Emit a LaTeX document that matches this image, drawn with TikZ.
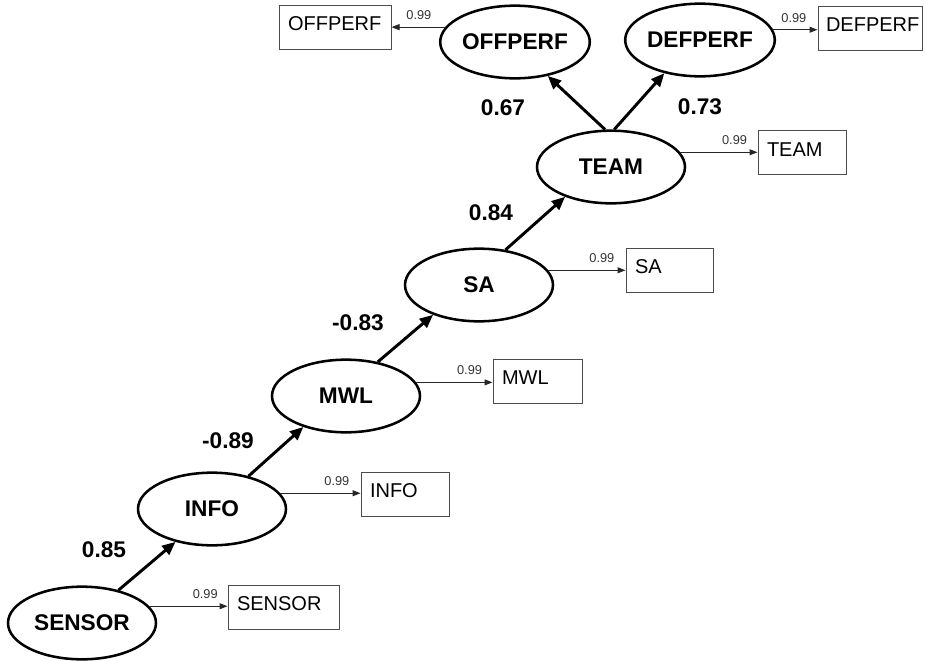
\documentclass[tikz,border=0pt]{standalone}
\usepackage{fontspec}
\setmainfont{Liberation Sans}
\usetikzlibrary{shapes.geometric,arrows.meta}
\begin{document}
\begin{tikzpicture}[x=0.75pt,y=-0.75pt,
  latent/.style={ellipse,draw,line width=1.9pt,inner sep=0pt,
    minimum width=111pt,minimum height=54.5pt,
    font=\fontsize{17}{20}\selectfont\bfseries},
  obsbox/.style={rectangle,draw=black!70,line width=0.75pt,
    minimum height=33pt,inner xsep=6.75pt,inner ysep=0pt,align=left,
    text height=9pt,text depth=3.75pt,font=\fontsize{15}{18}\selectfont},
  coef/.style={inner sep=0pt,font=\fontsize{17}{20}\selectfont\bfseries},
  errlab/.style={inner sep=0pt,text=black!80,font=\fontsize{9.6}{11}\selectfont},
  patharrow/.style={line width=2.2pt,-{Triangle[length=10pt,width=8.5pt]}},
  thinarrow/.style={line width=0.75pt,draw=black!85,-{Triangle[length=6pt,width=4.5pt]}}
]
\useasboundingbox (0,0) rectangle (926,661);

% latent variables
\node[latent] (sensor) at (82,623) {SENSOR};
\node[latent] (info)   at (212,509) {INFO};
\node[latent] (mwl)    at (346,396) {MWL};
\node[latent] (sa)     at (479,285) {SA};
\node[latent] (team)   at (611,167) {TEAM};
\node[latent] (off)    at (515,42)  {OFFPERF};
\node[latent] (def)    at (700,40)  {DEFPERF};

% observed indicators
\node[obsbox,text width=69.75pt] (sensorbox) at (283.5,607) {SENSOR};
\node[obsbox,text width=52.5pt]  (infobox)   at (405,494)   {INFO};
\node[obsbox,text width=53.25pt] (mwlbox)    at (537.5,381) {MWL};
\node[obsbox,text width=51.75pt] (sabox)     at (669.5,270) {SA};
\node[obsbox,text width=52.5pt]  (teambox)   at (802,152.5) {TEAM};
\node[obsbox,text width=70.5pt]  (offbox)    at (335,27)    {OFFPERF};
\node[obsbox,text width=66pt,inner xsep=6pt] (defbox) at (870,28) {DEFPERF};

% structural paths
\draw[patharrow] (sensor.42) -- (info.222);
\draw[patharrow] (info.42)   -- (mwl.216);
\draw[patharrow] (mwl.47)    -- (sa.213);
\draw[patharrow] (sa.53)     -- (team.213);
\draw[patharrow] (team.99)   -- (off.-46);
\draw[patharrow] (team.85)   -- (def.223);

% path coefficients
\node[coef] (c1) at (104,550) {0.85};
\node[coef] (c2) at (228,441) {-0.89};
\node[coef] (c3) at (358,323) {-0.83};
\node[coef] (c4) at (491,213) {0.84};
\node[coef] (c5) at (503,108) {0.67};
\node[coef] (c6) at (700,107) {0.73};

% loadings onto indicators
\draw[thinarrow] (sensor.14) -- (sensor.14 -| sensorbox.west)
  node[errlab,pos=1,anchor=south east,xshift=-7pt,yshift=5.25pt] (e1) {0.99};
\draw[thinarrow] (info.13.5) -- (info.13.5 -| infobox.west)
  node[errlab,pos=1,anchor=south east,xshift=-8pt,yshift=5.25pt] (e2) {0.99};
\draw[thinarrow] (mwl.11.7) -- (mwl.11.7 -| mwlbox.west)
  node[errlab,pos=1,anchor=south east,xshift=-7.5pt,yshift=5.25pt] (e3) {0.99};
\draw[thinarrow] (sa.12.6) -- (sa.12.6 -| sabox.west)
  node[errlab,pos=1,anchor=south east,xshift=-8pt,yshift=5.25pt] (e4) {0.99};
\draw[thinarrow] (team.12.5) -- (team.12.5 -| teambox.west)
  node[errlab,pos=1,anchor=south east,xshift=-7.5pt,yshift=5.25pt] (e5) {0.99};
\draw[thinarrow] (off.168.4) -- (off.168.4 -| offbox.east)
  node[errlab,pos=0,anchor=south east,xshift=-10pt,yshift=5.25pt] (e6) {0.99};
\draw[thinarrow] (def.8.9) -- (def.8.9 -| defbox.west)
  node[errlab,pos=1,anchor=south east,xshift=-8pt,yshift=5.25pt] (e7) {0.99};
\end{tikzpicture}
\end{document}
